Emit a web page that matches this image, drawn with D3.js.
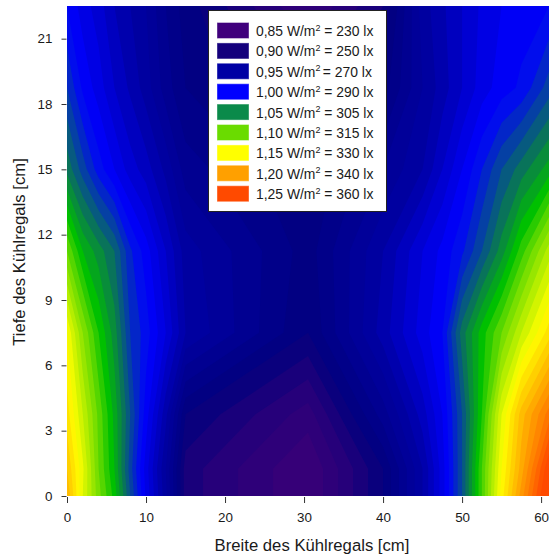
<!DOCTYPE html>
<html><head><meta charset="utf-8">
<style>html,body{margin:0;padding:0;background:#fff}svg{display:block}text{font-family:"Liberation Sans",Arial,sans-serif;fill:#1a1a1a}</style>
<script src="https://cdn.jsdelivr.net/npm/d3@7"></script>
</head><body><div id="c"></div>
<script>
// Irradiance in W/m2
const widthCm = [0,2,4,6,8,10,12.5,15,30.5,40,45,47.5,50,52.5,55,57.5,61];
const depthCm = [0,1.25,3.75,7.5,11.25,15,18.75,22.5];
const d00   = [1.19,1.14,1.104,1.076,1.03,.988,.943,.885,.85,.90,.95,.985,1.03,1.09,1.155,1.205,1.27];
const d125  = [1.18,1.142,1.10,1.07,1.025,.985,.94,.885,.85,.90,.95,.985,1.03,1.09,1.15,1.195,1.26];
const d375  = [1.165,1.13,1.097,1.067,1.03,.995,.953,.90,.865,.925,.965,.99,1.03,1.08,1.14,1.185,1.225];
const d75   = [1.15,1.11,1.08,1.055,1.02,1.005,.98,.95,.90,.955,.985,1.0,1.045,1.075,1.10,1.13,1.165];
const d1125 = [1.10,1.07,1.055,1.04,1.012,.995,.97,.945,.905,.95,.98,.993,1.008,1.03,1.055,1.085,1.125];
const d15   = [1.047,1.025,1.005,.99,.975,.965,.947,.925,.90,.93,.95,.97,.99,1.01,1.03,1.045,1.065];
const d1875 = [1.02,.998,.985,.97,.958,.945,.925,.91,.88,.905,.94,.955,.97,.985,.995,1.002,1.025];
const d225  = [1.0,.985,.975,.96,.95,.94,.92,.905,.86,.89,.945,.958,.97,.982,.99,.995,1.0];
const grid = [d00,d125,d375,d75,d1125,d15,d1875,d225];

const levels = [.85,.90,.95,1.00,1.05,1.10,1.15,1.20,1.25];
const lux = [230,250,270,290,305,315,330,340,360];
const levelColors = ["#40007c","#14007c","#0000a4","#0000ff","#0a8a4a","#6adc00","#ffff00","#ffa000","#ff4a00"];
const rampValues = [.85,.875,.89,.90,.95,1.00,1.05,1.075,1.10,1.15,1.20,1.25];
const rampColors = ["#3a0078","#26007a","#12007c","#02007e","#0000a4","#0000ff","#0a8048","#00c000","#6adc00","#ffff00","#ffa000","#ff4a00"];
const xTicks = [0,10,20,30,40,50,60];
const yTicks = [0,3,6,9,12,15,18,21];

const W=549,H=557,L=67,R=549,T=6,B=496;
const x=d3.scaleLinear().domain([0,61]).range([L,R]);
const y=d3.scaleLinear().domain([0,22.5]).range([B,T]);
const color=d3.scaleLinear().domain(rampValues).range(rampColors).clamp(true);
const svg=d3.select("#c").append("svg").attr("width",W).attr("height",H);

const n=widthCm.length,m=depthCm.length;
const px=d3.scaleLinear().domain(widthCm.map((_,i)=>i+.5)).range(widthCm.map(x)).clamp(true);
const py=d3.scaleLinear().domain(depthCm.map((_,i)=>i+.5)).range(depthCm.map(y)).clamp(true);
const path=d3.geoPath(d3.geoTransform({point(a,b){this.stream.point(px(a),py(b));}}));
const thresholds=d3.range(84,128).map(v=>v/100);
const contours=d3.contours().size([n,m]).smooth(true).thresholds(thresholds)(grid.flat());
svg.append("g").selectAll("path").data(contours).join("path")
  .attr("d",path).attr("fill",d=>color(d.value+.005));

const fs=13.4;
const ax=svg.append("g").attr("transform",`translate(0,${B+1})`)
  .call(d3.axisBottom(x).tickValues(xTicks).tickSize(6).tickPadding(9));
const ay=svg.append("g").attr("transform",`translate(${L-.5},0)`)
  .call(d3.axisLeft(y).tickValues(yTicks).tickSize(5).tickPadding(9));
[ax,ay].forEach(a=>{a.select(".domain").remove();
  a.selectAll("text").attr("font-size",fs).style("font-family",'"Liberation Sans"').attr("fill","#1a1a1a");
  a.selectAll("line").attr("stroke","#333");});

svg.append("text").attr("x",312).attr("y",551).attr("text-anchor","middle").attr("font-size",16.7).text("Breite des Kühlregals [cm]");
svg.append("text").attr("transform","translate(25,252) rotate(-90)").attr("text-anchor","middle").attr("font-size",16.7).text("Tiefe des Kühlregals [cm]");

const lg=svg.append("g");
lg.append("rect").attr("x",208.5).attr("y",10.5).attr("width",178).attr("height",201).attr("fill","#fff").attr("stroke","#222");
const fmt=v=>v.toFixed(2).replace(".",",");
levels.forEach((v,i)=>{
  const yy=23+i*20.4;
  lg.append("rect").attr("x",217.5).attr("y",yy).attr("width",31).attr("height",15).attr("fill",levelColors[i]).attr("stroke",levelColors[i]).attr("stroke-opacity",.6);
  const t=lg.append("text").attr("x",256).attr("y",yy+13).attr("font-size",13.9);
  t.append("tspan").text(fmt(v)+" W/m");
  t.append("tspan").attr("font-size",9).attr("dy",-5.5).text("2");
  t.append("tspan").attr("dy",5.5).attr("dx",i===2?-1.5:0).text(" = "+lux[i]+" lx");
});
</script></body></html>
